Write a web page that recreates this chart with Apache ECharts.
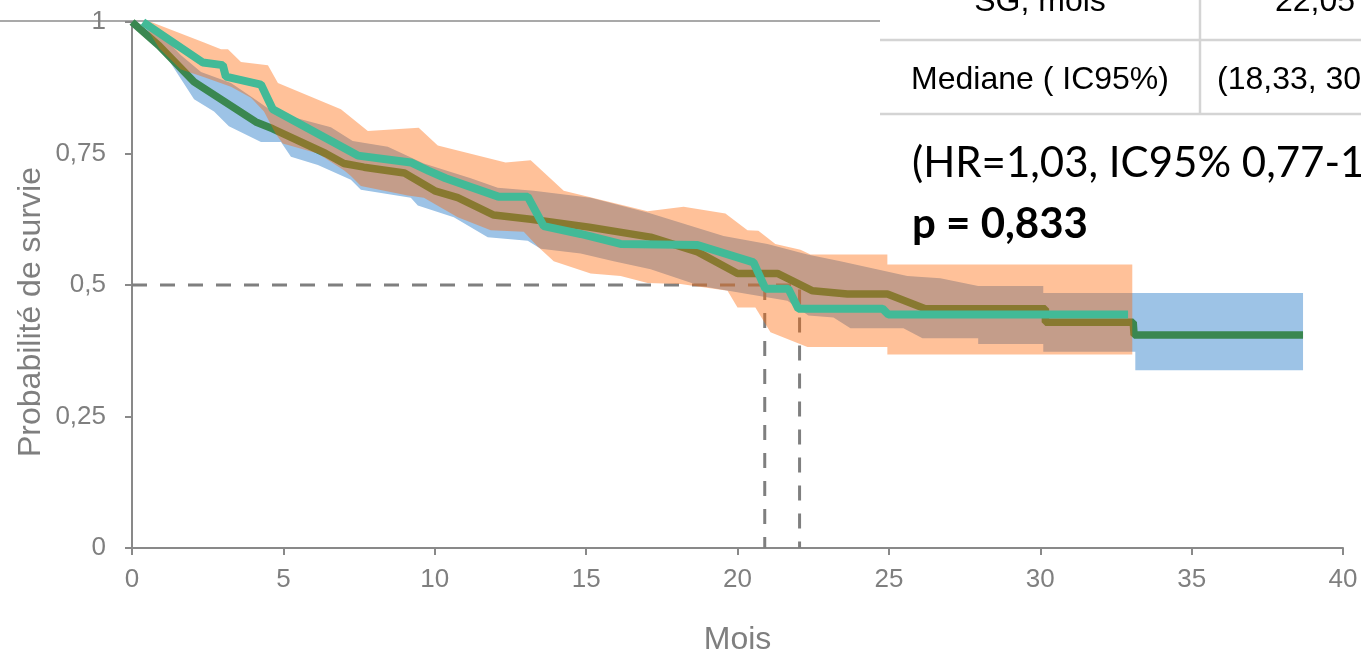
<!DOCTYPE html>
<html>
<head>
<meta charset="utf-8">
<script src="https://cdn.jsdelivr.net/npm/echarts@6/dist/echarts.min.js"></script>
<style>
html, body { margin: 0; padding: 0; background: #fff; }
#main { width: 1361px; height: 661px; }
</style>
</head>
<body>
<div id="main"></div>
<script>
// courbe de survie groupe 1 (vert foncé)
var survieVert = [[0,1],[0.89,0.955],[2.05,0.886],[4.09,0.81],[4.65,0.797],[6.4,0.75],[7.0,0.731],[7.66,0.724],[9.0,0.713],[10.0,0.679],[10.76,0.666],[11.95,0.633],[13.17,0.625],[15.1,0.610],[17.13,0.591],[18.68,0.563],[20.0,0.522],[21.32,0.522],[22.48,0.489],[23.63,0.483],[24.95,0.483],[26.2,0.455],[30.17,0.455],[30.17,0.429],[33.07,0.429],[33.1,0.405],[38.68,0.405]];
// courbe de survie groupe 2 (turquoise)
var survieTurq = [[0.36,1],[2.34,0.923],[3.0,0.918],[3.1,0.896],[4.26,0.881],[4.65,0.834],[7.46,0.746],[9.21,0.733],[9.8,0.717],[10.36,0.703],[12.1,0.668],[13.07,0.668],[13.6,0.612],[14.82,0.597],[16.14,0.578],[18.68,0.576],[20.53,0.543],[20.92,0.493],[21.68,0.493],[22.01,0.455],[24.79,0.455],[24.98,0.444],[32.9,0.444]];
// IC95% groupe 1 (bleu)
var bleuHaut = [[0,1],[0.73,0.987],[1.06,0.970],[1.62,0.937],[2.28,0.905],[3.27,0.884],[3.99,0.856],[4.69,0.828],[5.58,0.815],[6.57,0.800],[7.29,0.774],[8.45,0.763],[9.64,0.731],[11.19,0.703],[12.08,0.685],[13.27,0.679],[15.15,0.666],[17.03,0.638],[19.54,0.593],[20.99,0.578],[22.31,0.558],[23.4,0.545],[25.61,0.517],[26.7,0.513],[27.95,0.498],[30.1,0.498],[30.1,0.485],[38.68,0.485]];
var bleuBas = [[0,1],[0.96,0.950],[2.05,0.853],[2.71,0.830],[3.2,0.802],[4.26,0.772],[4.92,0.772],[5.25,0.744],[6.14,0.728],[7.23,0.700],[7.56,0.681],[9.21,0.666],[9.44,0.651],[10.63,0.629],[11.75,0.591],[13.07,0.584],[13.5,0.569],[14.82,0.560],[15.91,0.545],[17.13,0.530],[18.78,0.498],[20.33,0.483],[21.65,0.470],[22.34,0.442],[23.17,0.438],[23.73,0.418],[25.48,0.418],[26.11,0.399],[27.95,0.399],[27.95,0.388],[30.1,0.388],[30.1,0.373],[33.14,0.373],[33.14,0.338],[38.68,0.338]];
// IC95% groupe 2 (orange)
var orangeHaut = [[0.36,1],[0.63,1.0],[2.38,0.961],[2.94,0.948],[3.17,0.948],[3.6,0.924],[4.49,0.918],[4.82,0.884],[6.9,0.834],[7.79,0.793],[9.47,0.799],[10.1,0.765],[12.34,0.733],[13.17,0.737],[14.26,0.679],[17.03,0.640],[18.22,0.649],[19.6,0.636],[20.33,0.604],[20.69,0.603],[21.25,0.578],[22.08,0.567],[22.41,0.558],[24.95,0.558],[24.95,0.539],[33.04,0.539]];
var orangeBas = [[0.36,1],[0.9,0.95],[1.6,0.91],[2.34,0.896],[3.27,0.877],[3.93,0.856],[4.36,0.830],[4.75,0.787],[4.98,0.769],[6.14,0.750],[7.0,0.718],[7.23,0.707],[7.56,0.688],[9.11,0.670],[9.64,0.666],[10.76,0.629],[11.85,0.604],[12.94,0.601],[13.4,0.573],[13.93,0.545],[15.15,0.522],[16.14,0.517],[17.03,0.504],[18.12,0.502],[19.67,0.489],[20.0,0.457],[20.59,0.457],[21.09,0.410],[22.31,0.382],[24.95,0.382],[24.95,0.368],[33.04,0.368]];
// médianes (mois)
var medianeVert = 22.05;
var medianeTurq = 20.9;

var grisAxe = '#898989';
var police = '"Liberation Sans", Arial, sans-serif';

// bande de confiance en polygone
function bande(haut, bas, couleur, z) {
	return {
		type: 'custom',
		z: z,
		silent: true,
		data: [haut[0]],
		renderItem: function (params, api) {
			if (params.dataIndex !== 0) return;
			var pts = haut.map(function (p) { return api.coord(p); })
				.concat(bas.slice().reverse().map(function (p) { return api.coord(p); }));
			return { type: 'polygon', shape: { points: pts }, style: { fill: couleur } };
		}
	};
}

function pointille(data) {
	return {
		type: 'line', z: 2, symbol: 'none', silent: true, data: data,
		lineStyle: { color: '#7f7f7f', width: 3, type: [15, 13] }
	};
}

var myChart = echarts.init(document.getElementById('main'));
var option = {
	animation: false,
	grid: { left: 132, right: 18, top: 22, bottom: 104 },
	xAxis: {
		type: 'value', min: 0, max: 40, interval: 5,
		name: 'Mois', nameLocation: 'middle', nameGap: 76,
		nameTextStyle: { color: '#7f7f7f', fontSize: 32, fontFamily: police },
		axisLine: { show: true, lineStyle: { color: grisAxe, width: 2 } },
		axisTick: { show: true, length: 7, lineStyle: { color: grisAxe, width: 2 } },
		axisLabel: { color: '#7f7f7f', fontSize: 26, fontFamily: police, margin: 19 },
		splitLine: { show: false }
	},
	yAxis: {
		type: 'value', min: 0, max: 1, interval: 0.25,
		axisLine: { show: true, lineStyle: { color: grisAxe, width: 2 } },
		axisTick: { show: true, length: 7, lineStyle: { color: grisAxe, width: 2 } },
		axisLabel: {
			color: '#7f7f7f', fontSize: 26, fontFamily: police, margin: 26,
			formatter: function (v) { return String(v).replace('.', ','); }
		},
		splitLine: { show: false }
	},
	graphic: [
		{ type: 'line', z: -1, shape: { x1: 0, y1: 21, x2: 880, y2: 21 }, style: { stroke: '#8c8c8c', lineWidth: 1.5 } },
		{ type: 'text', x: 31, y: 312, rotation: Math.PI / 2,
			style: { text: 'Probabilité de survie', fill: '#7f7f7f', font: '32px ' + police, align: 'center', verticalAlign: 'middle' } },
		// tableau
		{ type: 'rect', shape: { x: 880, y: 0, width: 481, height: 115 }, style: { fill: '#fff' } },
		{ type: 'line', shape: { x1: 880, y1: 40, x2: 1361, y2: 40 }, style: { stroke: '#d4d4d4', lineWidth: 2.5 } },
		{ type: 'line', shape: { x1: 880, y1: 114, x2: 1361, y2: 114 }, style: { stroke: '#d4d4d4', lineWidth: 2.5 } },
		{ type: 'line', shape: { x1: 1200, y1: 0, x2: 1200, y2: 114 }, style: { stroke: '#d4d4d4', lineWidth: 2.5 } },
		{ type: 'text', x: 1040, y: 2, style: { text: 'SG, mois', fill: '#000', font: '32px ' + police, align: 'center', verticalAlign: 'middle' } },
		{ type: 'text', x: 1275, y: 2, style: { text: '22,05', fill: '#000', font: '32px ' + police, align: 'left', verticalAlign: 'middle' } },
		{ type: 'text', x: 1040, y: 80, style: { text: 'Mediane ( IC95%)', fill: '#000', font: '32px ' + police, align: 'center', verticalAlign: 'middle' } },
		{ type: 'text', x: 1217, y: 80, style: { text: '(18,33, 30', fill: '#000', font: '32px ' + police, align: 'left', verticalAlign: 'middle' } },
		{ type: 'text', x: 912, y: 163, style: { text: '(HR=1,03, IC95% 0,77-1', fill: '#000', font: '42px Lato, "Open Sans", sans-serif', align: 'left', verticalAlign: 'middle' } },
		{ type: 'text', x: 912, y: 224, style: { text: 'p = 0,833', fill: '#000', font: 'bold 42px Lato, "Open Sans", sans-serif', align: 'left', verticalAlign: 'middle' } }
	],
	series: [
		bande(bleuHaut, bleuBas, '#9dc3e6', 1),
		pointille([[0, 0.5], [medianeVert, 0.5], [medianeVert, 0]]),
		pointille([[medianeTurq, 0.5], [medianeTurq, 0]]),
		{
			type: 'line', z: 3, symbol: 'none', silent: true, data: survieVert,
			lineStyle: { color: '#3a8750', width: 7.5 }
		},
		bande(orangeHaut, orangeBas, 'rgba(255,100,0,0.4)', 4),
		{
			type: 'line', z: 5, symbol: 'none', silent: true, data: survieTurq,
			lineStyle: { color: '#42ba97', width: 8 }
		}
	]
};
myChart.setOption(option);
</script>
</body>
</html>
